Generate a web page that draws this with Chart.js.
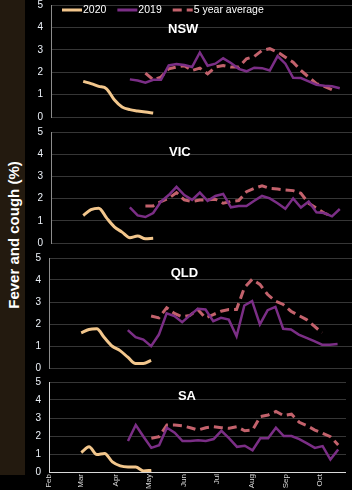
<!DOCTYPE html>
<html>
<head>
<meta charset="utf-8">
<script src="https://cdn.jsdelivr.net/npm/chart.js@4"></script>
<style>
  body { margin: 0; background: #000; width: 352px; height: 490px; overflow: hidden; position: relative;
         font-family: "Liberation Sans", Arial, sans-serif; }
  #ylab { position: absolute; left: 0; top: 0; width: 25px; height: 475px; background: #231a0f; }
  #ylab span { position: absolute; left: 50%; top: 235px; transform: translate(-50%, -50%) rotate(-90deg);
               white-space: nowrap; color: #fff; font-weight: bold; font-size: 15px; }
  canvas { position: absolute; }
</style>
</head>
<body>
<div id="ylab"><span>Fever and cough (%)</span></div>
<canvas id="nsw" width="327" height="122" style="left:25px;top:0px"></canvas>
<canvas id="vic" width="327" height="123" style="left:25px;top:126px"></canvas>
<canvas id="qld" width="327" height="122" style="left:25px;top:252px"></canvas>
<canvas id="sa" width="321" height="114" style="left:25px;top:376px"></canvas>
<script>
// x axis is days since 1 Feb 2020; one point per week
const monthLabels = ['Feb', 'Mar', 'Apr', 'May', 'Jun', 'Jul', 'Aug', 'Sep', 'Oct'];
const monthStartDays = [0, 29, 60, 90, 121, 151, 182, 213, 243];
const start2020 = 29;
const start2019 = 71;
const seriesLabels = ['2020', '2019', '5 year average'];

const nsw2020 = [1.59, 1.49, 1.37, 1.26, 0.77, 0.45, 0.33, 0.27, 0.22, 0.18];
const nsw2019 = [1.68, 1.63, 1.53, 1.66, 1.66, 2.3, 2.36, 2.32, 2.23, 2.88, 2.29, 2.38, 2.62, 2.41,
                 2.15, 2.04, 2.2, 2.18, 2.08, 2.72, 2.38, 1.75, 1.74, 1.59, 1.44, 1.4, 1.37, 1.28];
const nswAvg = [1.96, 1.66, 1.78, 2.15, 2.23, 2.29, 2.08, 2.18, 1.93, 2.23, 2.3, 2.23, 2.23, 2.6,
                2.7, 2.97, 3.05, 2.9, 2.67, 2.45, 2.08, 1.78, 1.49, 1.37, 1.22];

const vic2020 = [1.24, 1.5, 1.57, 1.13, 0.73, 0.49, 0.24, 0.31, 0.19, 0.21];
const vic2019 = [1.6, 1.24, 1.17, 1.35, 1.87, 2.16, 2.53, 2.16, 1.94, 2.27, 1.9, 2.12, 2.21, 1.61,
                 1.67, 1.67, 1.9, 2.12, 2.01, 1.79, 1.54, 2.01, 1.6, 1.87, 1.38, 1.35, 1.2, 1.53];
const vicAvg = [1.67, 1.67, 1.87, 2.01, 2.27, 1.94, 1.87, 1.94, 1.94, 1.97, 1.79, 1.87, 1.91, 2.31,
                2.46, 2.58, 2.46, 2.43, 2.39, 2.36, 2.24, 1.79, 1.57, 1.35, 1.2];

const qld2020 = [1.6, 1.75, 1.78, 1.37, 0.99, 0.79, 0.49, 0.2, 0.2, 0.35];
const qld2019 = [1.72, 1.4, 1.29, 0.99, 1.52, 2.48, 2.36, 2.08, 2.39, 2.69, 2.66, 2.13, 2.28, 2.2,
                 1.44, 2.84, 3.04, 1.98, 2.63, 2.78, 1.78, 1.75, 1.52, 1.37, 1.22, 1.06, 1.06, 1.09];
const qldAvg = [2.36, 2.28, 2.74, 2.48, 2.33, 2.39, 2.66, 2.28, 2.43, 2.58, 2.66, 2.66, 3.65, 4.03,
                3.8, 3.34, 3.04, 2.89, 2.58, 2.39, 2.2, 1.9, 1.6];

const sa2020 = [1.08, 1.4, 0.97, 1.03, 0.56, 0.34, 0.28, 0.28, 0.06, 0.09];
const sa2019 = [1.72, 2.61, 1.96, 1.34, 1.49, 2.46, 2.18, 1.72, 1.72, 1.77, 1.72, 1.83, 2.29, 1.87,
                1.4, 1.46, 1.21, 1.87, 1.87, 2.46, 2.0, 2.0, 1.83, 1.59, 1.34, 1.44, 0.69, 1.25];
const saAvg = [1.87, 1.96, 2.61, 2.61, 2.56, 2.46, 2.33, 2.46, 2.52, 2.46, 2.43, 2.52, 2.29, 2.33,
               3.08, 3.17, 3.36, 3.13, 3.21, 2.76, 2.57, 2.33, 2.15, 1.96, 1.5];

const colors = ['#f2c68c', '#7b2e86', '#c3626c'];

function weekly(values, startDay) {
  return values.map((v, i) => ({ x: startDay + 7 * i, y: v }));
}

// panel name written inside the plot
const panelTitle = {
  id: 'panelTitle',
  afterDatasetsDraw(chart, args, opts) {
    const ctx = chart.ctx;
    ctx.save();
    ctx.font = 'bold 13px "Liberation Sans", Arial';
    ctx.fillStyle = '#fff';
    ctx.textAlign = 'center';
    ctx.textBaseline = 'middle';
    ctx.fillText(opts.text, chart.scales.x.getPixelForValue(opts.day), chart.scales.y.getPixelForValue(opts.value));
    ctx.restore();
  }
};

// legend drawn inside the top of the first panel
const insideLegend = {
  id: 'insideLegend',
  afterDatasetsDraw(chart, args, opts) {
    if (!opts.show) return;
    const ctx = chart.ctx;
    let x = chart.chartArea.left + 11;
    const y = chart.chartArea.top + 5;
    ctx.save();
    ctx.font = '10.5px "Liberation Sans", Arial';
    ctx.textBaseline = 'middle';
    chart.data.datasets.forEach(ds => {
      ctx.strokeStyle = ds.borderColor;
      ctx.lineWidth = 3;
      ctx.setLineDash(ds.borderDash || []);
      ctx.beginPath();
      ctx.moveTo(x, y);
      ctx.lineTo(x + 20, y);
      ctx.stroke();
      ctx.setLineDash([]);
      ctx.fillStyle = '#fff';
      ctx.fillText(ds.label, x + 21, y);
      x += 21 + ctx.measureText(ds.label).width + 11;
    });
    ctx.restore();
  }
};

function makePanel(id, title, s2020, s2019, sAvg, avgWeek, cfg) {
  new Chart(document.getElementById(id), {
    type: 'line',
    data: {
      datasets: [
        { label: seriesLabels[0], data: weekly(s2020, start2020), borderColor: colors[0], borderWidth: 3,
          tension: 0.4, cubicInterpolationMode: 'monotone' },
        { label: seriesLabels[1], data: weekly(s2019, start2019), borderColor: colors[1], borderWidth: 2.5 },
        { label: seriesLabels[2], data: weekly(sAvg, start2019 + 7 * avgWeek), borderColor: colors[2],
          borderWidth: 3, borderDash: [9, 5] }
      ]
    },
    options: {
      responsive: false,
      animation: false,
      devicePixelRatio: 1,
      layout: { padding: { top: cfg.padTop, bottom: cfg.padBottom, left: 0, right: 0 } },
      elements: { point: { radius: 0 }, line: { fill: false } },
      plugins: {
        legend: { display: false },
        tooltip: { enabled: false },
        panelTitle: { text: title, day: cfg.titleDay, value: cfg.titleValue },
        insideLegend: { show: !!cfg.legend }
      },
      scales: {
        x: {
          type: 'linear', min: 0, max: cfg.xMax,
          display: !!cfg.xAxis,
          afterBuildTicks: s => { s.ticks = monthStartDays.map(v => ({ value: v })); },
          afterFit: s => { if (cfg.xAxis) s.height = 18; },
          ticks: {
            autoSkip: false, minRotation: 90, maxRotation: 90, padding: 2,
            color: '#d9d9d9', font: { size: 8, family: '"Liberation Sans", Arial' },
            callback: v => monthLabels[monthStartDays.indexOf(v)]
          },
          grid: { color: 'transparent', drawTicks: false },
          border: { display: true, color: '#d9d9d9', width: 1 }
        },
        y: {
          min: 0, max: 5,
          afterFit: s => { s.width = cfg.yWidth; s.paddingTop = 0; s.paddingBottom = 0; },
          ticks: { stepSize: 1, padding: 8, color: '#eef3fa', font: { size: 10, family: '"Liberation Sans", Arial' } },
          grid: { color: '#363636', lineWidth: 1, drawTicks: false },
          border: { display: true, color: cfg.yBorder, width: 1 }
        }
      }
    },
    plugins: [panelTitle, insideLegend]
  });
}

makePanel('nsw', 'NSW', nsw2020, nsw2019, nswAvg, 2,
  { xMax: 271, yWidth: 26, yBorder: '#8c8c8c', legend: true, padTop: 5, padBottom: 5, titleDay: 119, titleValue: 3.9 });
makePanel('vic', 'VIC', vic2020, vic2019, vicAvg, 2,
  { xMax: 271, yWidth: 26, yBorder: '#8c8c8c', padTop: 6, padBottom: 6, titleDay: 116, titleValue: 4.1 });
makePanel('qld', 'QLD', qld2020, qld2019, qldAvg, 3,
  { xMax: 273, yWidth: 24, yBorder: '#8c8c8c', padTop: 6, padBottom: 6, titleDay: 122, titleValue: 4.3 });
makePanel('sa', 'SA', sa2020, sa2019, saAvg, 3,
  { xMax: 267, yWidth: 24, yBorder: '#d9d9d9', xAxis: true, padTop: 6, padBottom: 0, titleDay: 124, titleValue: 4.2 });
</script>
</body>
</html>
